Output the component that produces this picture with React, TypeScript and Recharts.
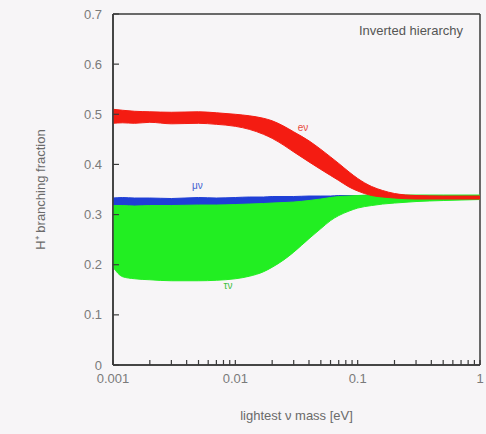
import { ComposedChart, Area, XAxis, YAxis, ReferenceDot, CartesianGrid } from 'recharts';

// lightest neutrino mass [eV]
const MASS = [0.001, 0.0012, 0.0015, 0.002, 0.003, 0.005, 0.007, 0.01, 0.013, 0.017, 0.02, 0.025, 0.03, 0.04, 0.05, 0.06, 0.07, 0.085, 0.1, 0.13, 0.16, 0.2, 0.3, 0.5, 0.7, 1];

// e nu band
const E_LOW = [0.482, 0.483, 0.482, 0.484, 0.481, 0.482, 0.48, 0.476, 0.47, 0.46, 0.452, 0.438, 0.425, 0.405, 0.39, 0.378, 0.368, 0.355, 0.347, 0.338, 0.335, 0.333, 0.331, 0.331, 0.331, 0.331];
const E_HIGH = [0.51, 0.508, 0.506, 0.505, 0.504, 0.505, 0.503, 0.5, 0.497, 0.492, 0.487, 0.476, 0.465, 0.447, 0.43, 0.415, 0.402, 0.385, 0.372, 0.356, 0.348, 0.342, 0.338, 0.337, 0.337, 0.337];

// mu nu band
const MU_LOW = [0.312, 0.314, 0.315, 0.316, 0.316, 0.316, 0.317, 0.318, 0.319, 0.32, 0.321, 0.322, 0.323, 0.325, 0.326, 0.327, 0.328, 0.329, 0.33, 0.331, 0.331, 0.331, 0.331, 0.331, 0.331, 0.331];
const MU_HIGH = [0.333, 0.334, 0.333, 0.333, 0.332, 0.334, 0.333, 0.334, 0.335, 0.335, 0.336, 0.336, 0.336, 0.337, 0.337, 0.337, 0.338, 0.338, 0.338, 0.338, 0.338, 0.338, 0.338, 0.338, 0.338, 0.338];

// tau nu band
const TAU_LOW = [0.195, 0.176, 0.172, 0.17, 0.168, 0.168, 0.169, 0.172, 0.177, 0.186, 0.195, 0.21, 0.225, 0.252, 0.272, 0.288, 0.298, 0.307, 0.313, 0.318, 0.321, 0.323, 0.326, 0.328, 0.329, 0.33];
const TAU_HIGH = [0.318, 0.318, 0.317, 0.318, 0.318, 0.319, 0.319, 0.32, 0.321, 0.322, 0.323, 0.324, 0.325, 0.328, 0.331, 0.334, 0.336, 0.337, 0.338, 0.339, 0.339, 0.339, 0.339, 0.339, 0.339, 0.339];

const X_MAJOR = [0.001, 0.01, 0.1, 1];
const X_MINOR = [0.002, 0.003, 0.004, 0.005, 0.006, 0.007, 0.008, 0.009, 0.02, 0.03, 0.04, 0.05, 0.06, 0.07, 0.08, 0.09, 0.2, 0.3, 0.4, 0.5, 0.6, 0.7, 0.8, 0.9];
const Y_TICKS = [0, 0.1, 0.2, 0.3, 0.4, 0.5, 0.6, 0.7];

const data = MASS.map((m, i) => ({
  m,
  e: [E_LOW[i], E_HIGH[i]],
  mu: [MU_LOW[i], MU_HIGH[i]],
  tau: [TAU_LOW[i], TAU_HIGH[i]],
}));

const FONT = '"Liberation Sans", Arial, sans-serif';
const FRAME = '#3a3a3a';
const tickStyle = { fill: '#7a7a7a', fontSize: 13, fontFamily: FONT };

export default function App() {
  return (
    <div style={{ position: 'absolute', left: 0, top: 0, width: 486, height: 434, background: '#f7f5f7' }}>
      <ComposedChart width={486} height={434} data={data} margin={{ top: 14, right: 6, bottom: 0, left: 0 }}>
        {/* plot frame: top/bottom and left/right edges of the plot box */}
        <CartesianGrid
          xAxisId="x"
          yAxisId="y"
          horizontalPoints={[14, 365]}
          verticalPoints={[113, 480]}
          stroke={FRAME}
          strokeWidth={1.5}
        />

        <Area xAxisId="x" yAxisId="y" type="monotone" dataKey="mu" stroke="#1f3fd6" strokeWidth={1} fill="#1f3fd6" fillOpacity={1} isAnimationActive={false} />
        <Area xAxisId="x" yAxisId="y" type="monotone" dataKey="tau" stroke="#22ee22" strokeWidth={1} fill="#22ee22" fillOpacity={1} isAnimationActive={false} />
        <Area xAxisId="x" yAxisId="y" type="monotone" dataKey="e" stroke="#f41c12" strokeWidth={1} fill="#f41c12" fillOpacity={1} isAnimationActive={false} />

        <XAxis
          xAxisId="x"
          type="number"
          dataKey="m"
          scale="log"
          domain={[0.001, 1]}
          ticks={[...X_MAJOR, ...X_MINOR].sort((a, b) => a - b)}
          interval={0}
          tickFormatter={(v: number) => (X_MAJOR.indexOf(v) >= 0 ? String(v) : '')}
          height={69}
          tickSize={-5}
          tickMargin={14}
          tickLine={{ stroke: FRAME, strokeWidth: 1.2 }}
          tick={tickStyle}
          axisLine={{ stroke: FRAME, strokeWidth: 1.5 }}
          label={{
            value: 'lightest ν mass [eV]',
            position: 'insideBottom',
            offset: 14,
            style: { fill: '#6a6a6a', fontSize: 13, fontFamily: FONT },
          }}
        />
        <YAxis
          yAxisId="y"
          type="number"
          domain={[0, 0.7]}
          ticks={Y_TICKS}
          interval={0}
          width={113}
          tickSize={-6}
          tickMargin={17}
          tickLine={{ stroke: FRAME, strokeWidth: 1.2 }}
          tick={tickStyle}
          axisLine={{ stroke: FRAME, strokeWidth: 1.5 }}
          label={{
            position: 'center',
            content: (props: any) => {
              const vb = props.viewBox;
              const cx = vb.x + 40;
              const cy = vb.y + vb.height / 2;
              return (
                <text x={cx} y={cy} transform={`rotate(-90, ${cx}, ${cy})`} textAnchor="middle" dominantBaseline="central" fill="#6a6a6a" fontSize={13} fontFamily={FONT}>
                  H⁺ branching fraction
                </text>
              );
            },
          }}
        />

        <ReferenceDot xAxisId="x" yAxisId="y" x={0.0357} y={0.473} r={0} label={{ value: 'eν', fill: '#e84a40', fontSize: 10, fontFamily: FONT }} />
        <ReferenceDot xAxisId="x" yAxisId="y" x={0.0049} y={0.359} r={0} label={{ value: 'μν', fill: '#4060d0', fontSize: 10, fontFamily: FONT }} />
        <ReferenceDot xAxisId="x" yAxisId="y" x={0.0087} y={0.158} r={0} label={{ value: 'τν', fill: '#40c040', fontSize: 10, fontFamily: FONT }} />
        <ReferenceDot xAxisId="x" yAxisId="y" x={1} y={0.7} r={0} label={{
          value: 'Inverted hierarchy',
          content: (p: any) => (
            <text x={p.viewBox.x - 17} y={p.viewBox.y + 16} textAnchor="end" dominantBaseline="central" fill="#555" fontSize={13} fontFamily={FONT}>Inverted hierarchy</text>
          ),
        }} />
      </ComposedChart>
    </div>
  );
}
